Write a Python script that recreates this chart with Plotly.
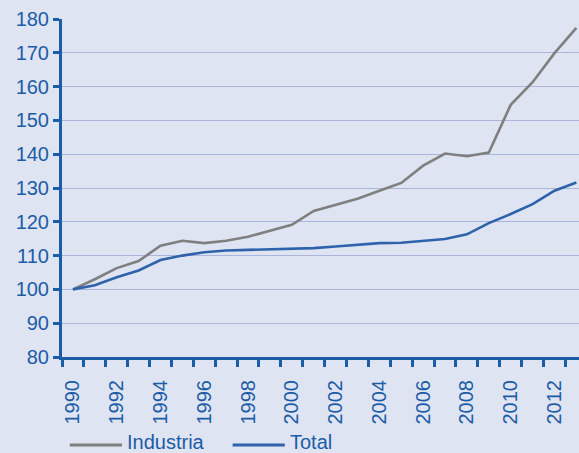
import plotly.graph_objects as go

years = list(range(1990, 2014))
industria = [100.0, 103.0, 106.3, 108.4, 112.9, 114.4, 113.7, 114.4, 115.6, 117.3,
             119.1, 123.2, 125.0, 126.8, 129.2, 131.5, 136.6, 140.2, 139.4, 140.5,
             154.6, 161.3, 169.9, 177.4]
total = [100.0, 101.2, 103.6, 105.6, 108.7, 110.0, 111.0, 111.5, 111.7, 111.8,
         111.9, 112.2, 112.7, 113.3, 113.7, 113.8, 114.4, 114.9, 116.3, 119.6,
         122.3, 125.2, 129.2, 131.6]
series_names = ["Industria", "Total"]
even_years = [y for y in years if y % 2 == 0]
y_ticks = list(range(80, 181, 10))

BG = "#dfe4f2"
AXIS_BLUE = "#1b5ca6"
GRID = "#aab5dc"
GREY = "#7f7f7f"
LINE_BLUE = "#2e63ab"
FONT = "Arial, Liberation Sans, sans-serif"

fig = go.Figure()
fig.add_trace(go.Scatter(x=years, y=industria, mode="lines", name=series_names[0],
                         line=dict(color=GREY, width=2.6), showlegend=False))
fig.add_trace(go.Scatter(x=years, y=total, mode="lines", name=series_names[1],
                         line=dict(color=LINE_BLUE, width=2.6), showlegend=False))

fig.update_layout(
    width=579, height=453,
    margin=dict(l=62, r=0, t=19, b=96),
    paper_bgcolor=BG, plot_bgcolor=BG,
    font=dict(family=FONT, size=20, color=AXIS_BLUE),
)

fig.update_xaxes(
    range=[1989.5, 2013.12],
    tickmode="array", tickvals=even_years, ticktext=[str(y) for y in even_years],
    tickangle=-90, ticks="", ticklabelstandoff=12,
    showgrid=False, zeroline=False,
    showline=True, linecolor=AXIS_BLUE, linewidth=3,
    minor=dict(tickmode="array", tickvals=[y - 0.5 for y in years],
               ticks="outside", ticklen=7, tickwidth=2.5, tickcolor=AXIS_BLUE,
               showgrid=False),
)
fig.update_yaxes(
    range=[80, 180],
    tickmode="array", tickvals=y_ticks,
    ticks="outside", ticklen=6, tickwidth=2.5, tickcolor=AXIS_BLUE,
    showgrid=True, gridcolor=GRID, gridwidth=1.3,
    zeroline=False,
    showline=True, linecolor=AXIS_BLUE, linewidth=3,
)

# Legend drawn below the year labels
legend_y = -0.26
text_y = -0.252
entries = [(series_names[0], GREY, 0.015, 0.116),
           (series_names[1], LINE_BLUE, 0.330, 0.431)]
for name, color, x0, x1 in entries:
    fig.add_shape(type="line", xref="paper", yref="paper",
                  x0=x0, x1=x1, y0=legend_y, y1=legend_y,
                  line=dict(color=color, width=3))
    fig.add_annotation(xref="paper", yref="paper", x=x1 + 0.008, y=text_y,
                       text=name, showarrow=False, xanchor="left", yanchor="middle",
                       borderpad=0,
                       font=dict(family=FONT, size=20, color=AXIS_BLUE))

fig.write_html("out.html")
